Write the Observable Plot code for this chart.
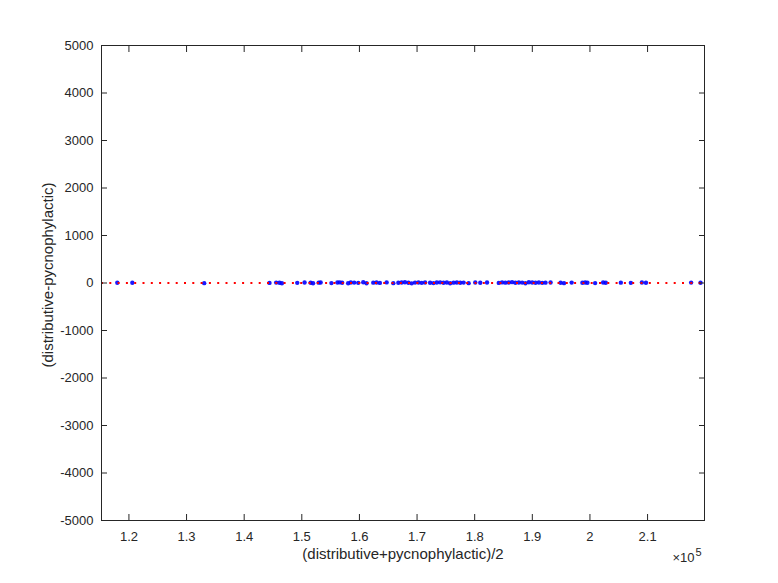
<!DOCTYPE html>
<html>
<head>
<meta charset="utf-8">
<script src="https://cdn.jsdelivr.net/npm/d3@7"></script>
<script src="https://cdn.jsdelivr.net/npm/@observablehq/plot@0.6"></script>
<style>
  html, body { margin: 0; padding: 0; background: #fff; }
  #chart { width: 778px; height: 583px; }
</style>
</head>
<body>
<div id="chart"></div>
<script>
// Mean of the two methods, (distributive+pycnophylactic)/2
const meanValues = [
  117980, 120590, 133060, 144390, 145550, 146130, 146550, 149210, 150480, 151530,
  151950, 152920, 153270, 155140, 156180, 156580, 157000, 158040, 158500, 159090,
  159790, 160660, 161230, 162400, 162970, 163550, 164720, 165880, 166750, 167330,
  167900, 168500, 169070, 169650, 170240, 170810, 171390, 172260, 172850, 173430,
  174000, 174590, 175170, 175740, 176340, 176910, 177490, 178080, 178950, 180100,
  180970, 182140, 184180, 184750, 185330, 185920, 186490, 187070, 187660, 188240,
  188810, 189400, 189980, 190550, 191140, 191720, 192290, 193170, 194910, 195500,
  196830, 198690, 199160, 199560, 200900, 202290, 202750, 205360, 207100, 209020,
  209720, 217560, 219190
];
// Difference of the two methods, distributive-pycnophylactic
const diffValues = [
  4, 6, -3, 2, 8, 5, -4, 3, 10, 6,
  -5, 7, 12, -2, 9, 14, 5, -6, 11, 8,
  3, 15, -4, 7, 10, 2, 13, -3, 6, 9,
  16, 4, -7, 8, 11, 3, 12, 5, -2, 9,
  14, 6, 10, -5, 7, 12, 4, 8, -3, 11,
  6, 9, 2, 13, 7, 10, 18, 5, 12, 8,
  -4, 15, 9, 6, 11, 3, 7, 10, 5, -3,
  8, 4, 12, 6, -2, 9, 5, 7, 3, 10,
  6, 8, 4
];
const xTicks = [120000, 130000, 140000, 150000, 160000, 170000, 180000, 190000, 200000, 210000];
const yTicks = [-5000, -4000, -3000, -2000, -1000, 0, 1000, 2000, 3000, 4000, 5000];
const xDomain = [115240, 219880];
const yDomain = [-5000, 5000];
const xLabel = "(distributive+pycnophylactic)/2";
const yLabel = "(distributive-pycnophylactic)";
const xExponentBase = "\u00d710";
const xExponentPower = "5";
const meanDiff = [0];

const points = meanValues.map((m, i) => ({mean: m, diff: diffValues[i]}));
const axisColor = "#262626";
const fmtX = d => String(+(d / 1e5).toFixed(1));

const chart = Plot.plot({
  width: 778,
  height: 583,
  marginLeft: 101,
  marginRight: 74,
  marginTop: 45,
  marginBottom: 63,
  style: {fontFamily: "'Liberation Sans', Arial, Helvetica, sans-serif", fontSize: "13px", color: axisColor, background: "#fff", overflow: "visible"},
  x: {domain: xDomain, axis: null},
  y: {domain: yDomain, axis: null},
  marks: [
    Plot.dot(points, {x: "mean", y: "diff", r: 2.2, fill: "#0000ff", stroke: "none", fillOpacity: 0.9}),
    Plot.ruleY(meanDiff, {stroke: "#ff0000", strokeWidth: 2, strokeDasharray: "2,6.3"}),
    // tick marks (inward) on all four sides
    Plot.axisX(xTicks, {anchor: "bottom", tickSize: -6, tickFormat: () => "", stroke: axisColor, label: null}),
    Plot.axisX(xTicks, {anchor: "top", tickSize: -6, tickFormat: () => "", stroke: axisColor, label: null}),
    Plot.axisY(yTicks, {anchor: "left", tickSize: -6, tickFormat: () => "", stroke: axisColor, label: null}),
    Plot.axisY(yTicks, {anchor: "right", tickSize: -6, tickFormat: () => "", stroke: axisColor, label: null}),
    // tick labels
    Plot.axisX(xTicks, {anchor: "bottom", tickSize: 0, tickPadding: 11, tickFormat: fmtX, fill: axisColor, label: null}),
    Plot.axisY(yTicks, {anchor: "left", tickSize: 0, tickPadding: 8, tickFormat: d => String(d), fill: axisColor, label: null}),
    Plot.frame({stroke: axisColor, strokeWidth: 1}),
    Plot.text([xLabel], {frameAnchor: "bottom", dy: 38, textAnchor: "middle", text: d => d, fill: axisColor, fontSize: 15}),
    Plot.text([yLabel], {frameAnchor: "left", dx: -53, dy: -8, rotate: -90, textAnchor: "middle", lineAnchor: "middle", text: d => d, fill: axisColor, fontSize: 15}),
    Plot.text([xExponentBase], {frameAnchor: "bottom-right", dy: 41, dx: -10, textAnchor: "end", text: d => d, fill: axisColor, fontSize: 13}),
    Plot.text([xExponentPower], {frameAnchor: "bottom-right", dy: 35, dx: -3, textAnchor: "end", text: d => d, fill: axisColor, fontSize: 11})
  ]
});
document.getElementById("chart").appendChild(chart);
</script>
</body>
</html>
